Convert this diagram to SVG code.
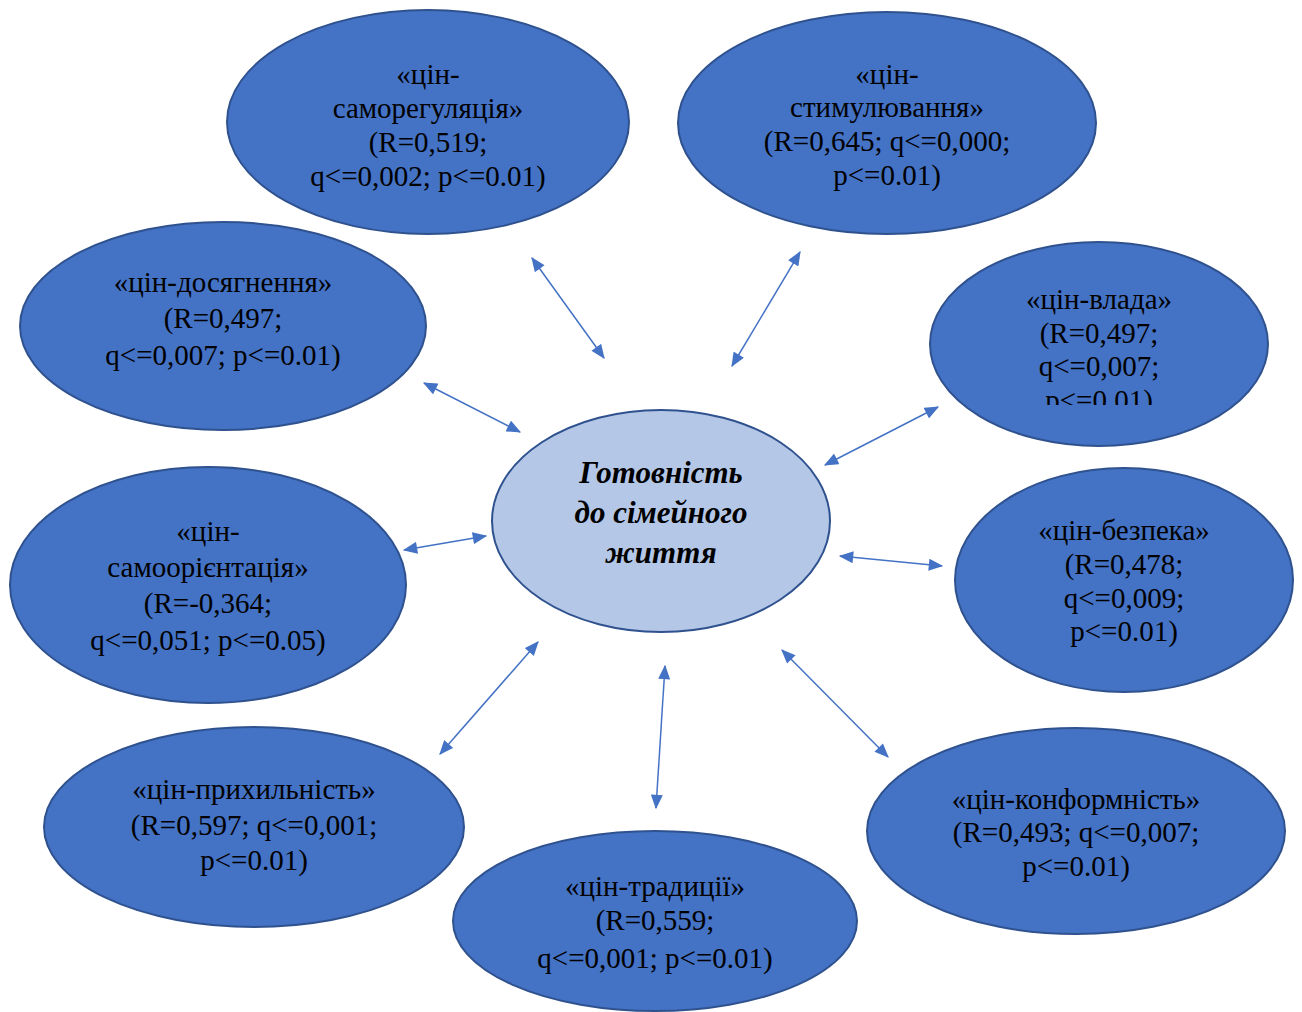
<svg xmlns="http://www.w3.org/2000/svg" width="1302" height="1012" viewBox="0 0 1302 1012">
<style>
.n{fill:#4472C4;stroke:#2F528F;stroke-width:2}
.c{fill:#B4C7E7;stroke:#2F528F;stroke-width:2}
.t{font-family:"Liberation Serif","Times New Roman",serif;font-size:29px;fill:#000;text-anchor:middle}
.ct{font-family:"Liberation Serif","Times New Roman",serif;font-size:31px;font-weight:bold;font-style:italic;fill:#000;text-anchor:middle}
.a{stroke:#4472C4;stroke-width:1.5;fill:none;marker-start:url(#h);marker-end:url(#h)}
</style>
<defs>
<marker id="h" viewBox="0 0 12 10" refX="11" refY="5" markerWidth="15" markerHeight="12" markerUnits="userSpaceOnUse" orient="auto-start-reverse">
<path d="M0,0 L12,5 L0,10 Z" fill="#4472C4"/>
</marker>
<clipPath id="clipV"><rect x="930" y="240" width="340" height="165"/></clipPath>
</defs>
<rect width="1302" height="1012" fill="#fff"/>
<g id="connectors">
<line class="a" x1="532" y1="258" x2="604" y2="358"/>
<line class="a" x1="800" y1="252" x2="732" y2="366"/>
<line class="a" x1="424" y1="383" x2="520" y2="432"/>
<line class="a" x1="938" y1="407" x2="825" y2="465"/>
<line class="a" x1="404" y1="550" x2="486" y2="536"/>
<line class="a" x1="840" y1="556" x2="942" y2="566"/>
<line class="a" x1="538" y1="642" x2="440" y2="754"/>
<line class="a" x1="665" y1="666" x2="656" y2="808"/>
<line class="a" x1="782" y1="650" x2="888" y2="757"/>
</g>
<g id="n-samoreg">
<ellipse class="n" cx="428" cy="122" rx="201" ry="112"/>
<text class="t"><tspan x="428" y="84">«цін-</tspan><tspan x="428" y="118">саморегуляція»</tspan><tspan x="428" y="152">(R=0,519;</tspan><tspan x="428" y="186">q&lt;=0,002; p&lt;=0.01)</tspan></text>
</g>
<g id="n-stym">
<ellipse class="n" cx="887" cy="123" rx="209" ry="111"/>
<text class="t"><tspan x="887" y="84">«цін-</tspan><tspan x="887" y="117">стимулювання»</tspan><tspan x="887" y="151">(R=0,645; q&lt;=0,000;</tspan><tspan x="887" y="185">p&lt;=0.01)</tspan></text>
</g>
<g id="n-dosyag">
<ellipse class="n" cx="223" cy="326" rx="203" ry="104"/>
<text class="t"><tspan x="223" y="292">«цін-досягнення»</tspan><tspan x="223" y="328">(R=0,497;</tspan><tspan x="223" y="365">q&lt;=0,007; p&lt;=0.01)</tspan></text>
</g>
<g id="n-vlada">
<ellipse class="n" cx="1099" cy="344" rx="169" ry="102"/>
<text class="t" clip-path="url(#clipV)"><tspan x="1099" y="309">«цін-влада»</tspan><tspan x="1099" y="343">(R=0,497;</tspan><tspan x="1099" y="376">q&lt;=0,007;</tspan><tspan x="1099" y="410">p&lt;=0.01)</tspan></text>
</g>
<g id="n-center">
<ellipse class="c" cx="661" cy="521" rx="169" ry="111"/>
<text class="ct"><tspan x="661" y="483">Готовність</tspan><tspan x="661" y="523">до сімейного</tspan><tspan x="661" y="563">життя</tspan></text>
</g>
<g id="n-samoor">
<ellipse class="n" cx="208" cy="585" rx="198" ry="118"/>
<text class="t"><tspan x="208" y="541">«цін-</tspan><tspan x="208" y="577">самоорієнтація»</tspan><tspan x="208" y="613">(R=-0,364;</tspan><tspan x="208" y="650">q&lt;=0,051; p&lt;=0.05)</tspan></text>
</g>
<g id="n-bezpeka">
<ellipse class="n" cx="1124" cy="580" rx="169" ry="112"/>
<text class="t"><tspan x="1124" y="540">«цін-безпека»</tspan><tspan x="1124" y="574">(R=0,478;</tspan><tspan x="1124" y="608">q&lt;=0,009;</tspan><tspan x="1124" y="641">p&lt;=0.01)</tspan></text>
</g>
<g id="n-pryhyl">
<ellipse class="n" cx="254" cy="827" rx="210" ry="100"/>
<text class="t"><tspan x="254" y="799">«цін-прихильність»</tspan><tspan x="254" y="835">(R=0,597; q&lt;=0,001;</tspan><tspan x="254" y="870">p&lt;=0.01)</tspan></text>
</g>
<g id="n-tradytsii">
<ellipse class="n" cx="655" cy="921" rx="202" ry="90"/>
<text class="t"><tspan x="655" y="896">«цін-традиції»</tspan><tspan x="655" y="930">(R=0,559;</tspan><tspan x="655" y="968">q&lt;=0,001; p&lt;=0.01)</tspan></text>
</g>
<g id="n-konform">
<ellipse class="n" cx="1076" cy="831" rx="209" ry="103"/>
<text class="t"><tspan x="1076" y="809">«цін-конформність»</tspan><tspan x="1076" y="842">(R=0,493; q&lt;=0,007;</tspan><tspan x="1076" y="876">p&lt;=0.01)</tspan></text>
</g>
</svg>
